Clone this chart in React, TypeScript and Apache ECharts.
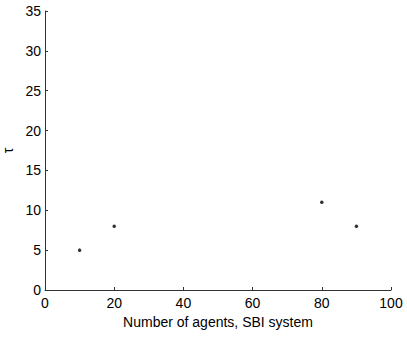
import React, { useEffect, useRef } from "react";
import * as echarts from "echarts";

const agents = [10, 20, 80, 90];
const tau = [5, 8, 11, 8];

export default function App() {
  const ref = useRef<HTMLDivElement>(null);
  useEffect(() => {
    if (!ref.current) return;
    const chart = echarts.init(ref.current, null, { renderer: "svg" });
    const font = "Liberation Sans, Arial, Helvetica, sans-serif";
    chart.setOption({
      animation: false,
      backgroundColor: "#fff",
      grid: {
        left: 45,
        top: 11,
        width: 346,
        height: 279,
        containLabel: false,
        outerBoundsMode: "none",
      },
      xAxis: {
        type: "value",
        min: 0,
        max: 100,
        interval: 20,
        name: "Number of agents, SBI system",
        nameLocation: "middle",
        nameGap: 23,
        nameTextStyle: { color: "#000", fontSize: 14, fontFamily: font },
        axisLine: { show: true, lineStyle: { color: "#333", width: 1 } },
        axisTick: { show: true, inside: true, length: 3, lineStyle: { color: "#333" } },
        axisLabel: { color: "#000", fontSize: 14, fontFamily: font, margin: 6 },
        splitLine: { show: false },
      },
      yAxis: {
        type: "value",
        min: 0,
        max: 35,
        interval: 5,
        name: "τ",
        nameLocation: "middle",
        nameGap: 30,
        nameRotate: 90,
        nameTextStyle: { color: "#000", fontSize: 14, fontFamily: font },
        axisLine: { show: true, lineStyle: { color: "#333", width: 1 } },
        axisTick: { show: true, inside: true, length: 3, lineStyle: { color: "#333" } },
        axisLabel: { color: "#000", fontSize: 14, fontFamily: font, margin: 4 },
        splitLine: { show: false },
      },
      series: [
        {
          type: "scatter",
          data: agents.map((a, i) => [a, tau[i]]),
          symbol: "circle",
          symbolSize: 3.5,
          itemStyle: { color: "#000" },
        },
      ],
    });
    return () => chart.dispose();
  }, []);
  return (
    <div
      ref={ref}
      style={{ position: "absolute", left: 0, top: 0, width: 407, height: 337 }}
    />
  );
}
